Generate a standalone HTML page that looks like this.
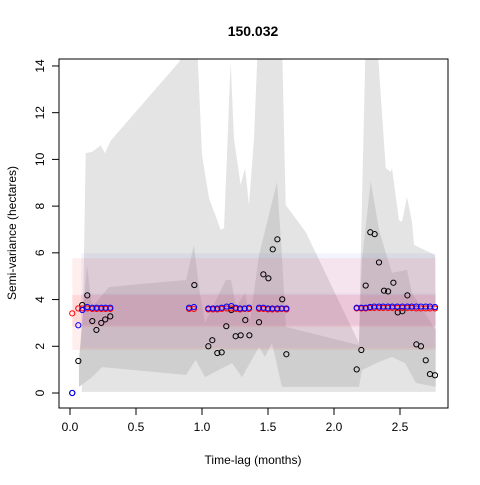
<!DOCTYPE html>
<html><head><meta charset="utf-8"><style>
body{margin:0;background:#fff}
svg text{font-family:"Liberation Sans",Arial,sans-serif;fill:#000}
</style></head><body>
<svg id="c" width="480" height="480" xmlns="http://www.w3.org/2000/svg">
<defs><clipPath id="pc"><rect x="59" y="59" width="389" height="349"/></clipPath></defs>
<text x="253" y="36" font-size="14" font-weight="bold" text-anchor="middle">150.032</text>
<text x="253" y="464" font-size="12" text-anchor="middle">Time-lag (months)</text>
<text x="16" y="233" font-size="12" text-anchor="middle" transform="rotate(-90 16 233)">Semi-variance (hectares)</text>
<g id="plot" clip-path="url(#pc)"></g>
<g id="axes"></g>
<rect x="59" y="59" width="389" height="349" fill="none" stroke="#000" stroke-width="1"/>
</svg>
<script>
const xTicks=[0,0.5,1,1.5,2,2.5];
const xTickLabels=["0.0","0.5","1.0","1.5","2.0","2.5"];
const yTicks=[0,2,4,6,8,10,12,14];
const yTickLabels=["0","2","4","6","8","10","12","14"];
const lightT=[0.089,0.119,0.167,0.233,0.265,0.308,0.826,0.909,0.962,1.0,1.053,1.142,1.167,1.217,1.242,1.293,1.326,1.356,1.394,1.424,1.606,1.634,1.786,2.189,2.212,2.24,2.326,2.392,2.43,2.439,2.492,2.515,2.553,2.591,2.606,2.765,2.77];
const lightHi=[0.1,10.27,10.32,10.6,10.27,10.8,14.17,15.1,15.1,10.19,8.35,6.98,7.06,14.17,10.9,8.9,9.63,8.05,10.9,15.1,15.1,8.05,6.89,2.14,8.26,15.1,15.1,9.63,9.46,9.63,7.4,7.32,8.39,7.32,6.34,5.91,0.1];
const lightLo=[0.05,0.05];
const darkUpT=[0.068,0.129,0.167,0.295,0.879,0.939,0.977,1.023,1.18,1.22,1.258,1.326,1.364,1.432,1.568,1.604,1.636,2.189,2.212,2.278,2.341,2.439,2.553,2.591,2.77];
const darkUpV=[1.41,5.48,3.68,4.54,4.84,6.34,4.54,3.0,4.84,4.84,3.68,4.28,3.13,5.91,9.03,6.04,2.83,2.05,5.69,9.07,6.98,5.14,5.27,4.28,2.7];
const darkLoT=[0.068,0.167,0.242,0.879,0.952,1.023,1.227,1.303,1.432,1.477,1.53,1.606,2.189,2.212,2.341,2.439,2.538,2.621,2.77];
const darkLoV=[0.26,0.68,1.11,0.77,1.41,0.68,1.28,0.68,1.97,1.54,2.14,0.26,0.26,0.98,1.33,1.54,1.28,0.43,0.26];
const bandRange=[[0.018,2.77],[0.085,2.77]];
const redOuter=[1.84,5.77], redInner=[2.84,4.2];
const blueOuter=[1.93,5.98], blueInner=[2.91,4.27];
const modelT=[0.017,0.063,0.093,0.131,0.169,0.202,0.237,0.27,0.305,0.902,0.939,1.048,1.083,1.116,1.149,1.187,1.222,1.255,1.288,1.323,1.356,1.432,1.465,1.5,1.533,1.571,1.604,1.639,2.172,2.207,2.24,2.273,2.305,2.341,2.373,2.409,2.442,2.48,2.518,2.556,2.589,2.624,2.659,2.695,2.727,2.765];
const redV=[3.41,3.62,3.62,3.62,3.6,3.6,3.6,3.6,3.6,3.6,3.6,3.58,3.58,3.58,3.6,3.62,3.62,3.6,3.58,3.6,3.6,3.6,3.6,3.58,3.58,3.58,3.6,3.58,3.62,3.62,3.62,3.64,3.64,3.64,3.64,3.64,3.64,3.64,3.64,3.64,3.64,3.62,3.62,3.62,3.62,3.62];
const blueV=[0,2.9,3.55,3.68,3.65,3.65,3.65,3.65,3.65,3.65,3.68,3.62,3.62,3.62,3.65,3.7,3.72,3.65,3.62,3.62,3.65,3.65,3.65,3.62,3.62,3.62,3.62,3.62,3.65,3.65,3.65,3.68,3.7,3.7,3.7,3.7,3.7,3.7,3.7,3.7,3.7,3.7,3.7,3.7,3.7,3.68];
const empT=[0.017,0.063,0.093,0.131,0.169,0.2,0.237,0.267,0.305,0.942,1.048,1.078,1.116,1.149,1.184,1.222,1.255,1.293,1.328,1.359,1.432,1.465,1.503,1.536,1.571,1.608,1.639,2.172,2.207,2.24,2.275,2.308,2.341,2.379,2.41,2.45,2.483,2.518,2.556,2.624,2.659,2.695,2.727,2.765];
const empV=[0,1.37,3.77,4.18,3.08,2.7,3.0,3.15,3.28,4.62,2.0,2.26,1.71,1.74,2.86,3.55,2.43,2.47,3.12,2.47,3.03,5.08,4.91,6.15,6.58,4.01,1.66,1.01,1.84,4.6,6.88,6.8,5.59,4.38,4.35,4.72,3.45,3.5,4.18,2.08,2.0,1.4,0.81,0.76];

const X=t=>70+t*132, Y=v=>393-v*23.36;
const NS="http://www.w3.org/2000/svg";
const plot=document.getElementById('plot'), axes=document.getElementById('axes');
function mk(tag,at,parent){const e=document.createElementNS(NS,tag);for(const k in at)e.setAttribute(k,at[k]);parent.appendChild(e);return e;}
// light envelope
let pts=lightT.map((t,i)=>X(t)+','+Y(lightHi[i]));
pts.push(X(lightT[lightT.length-1])+','+Y(lightLo[1]));pts.push(X(lightT[0])+','+Y(lightLo[0]));
let p=mk('polygon',{points:pts.join(' '),fill:'#e4e4e4'},plot);


// dark envelope
pts=darkUpT.map((t,i)=>X(t)+','+Y(darkUpV[i]));
for(let i=darkLoT.length-1;i>=0;i--)pts.push(X(darkLoT[i])+','+Y(darkLoV[i]));
p=mk('polygon',{points:pts.join(' '),fill:'#cfcfcf'},plot);


// model bands
function band(r,rng,col,op,name){const e=mk('rect',{x:X(rng[0]),y:Y(r[1]),width:X(rng[1])-X(rng[0]),height:Y(r[0])-Y(r[1]),fill:col,'fill-opacity':op},plot);

}
band(blueOuter,bandRange[1],'#6060ff',0.07,'model-band-blue-outer');
band(redOuter,bandRange[0],'#ff4040',0.09,'model-band-red-outer');
band(blueInner,bandRange[1],'#6060ff',0.07,'model-band-blue-inner');
band(redInner,bandRange[0],'#ff3030',0.11,'model-band-red-inner');
// points
empT.forEach((t,i)=>{const c=mk('circle',{cx:X(t),cy:Y(empV[i]),r:2.6,fill:'none',stroke:'#000','stroke-width':1},plot);

});
modelT.forEach((t,i)=>{const c=mk('circle',{cx:X(t),cy:Y(redV[i]),r:2.6,fill:'none',stroke:'#f00','stroke-width':1},plot);

});
modelT.forEach((t,i)=>{const c=mk('circle',{cx:X(t),cy:Y(blueV[i]),r:2.6,fill:'none',stroke:'#00f','stroke-width':1},plot);

});
// axes
xTicks.forEach((t,i)=>{const l=mk('line',{x1:X(t),x2:X(t),y1:408,y2:415,stroke:'#000'},axes);


const tx=mk('text',{x:X(t),y:431,'font-size':12,'text-anchor':'middle'},axes);tx.textContent=xTickLabels[i];

});
yTicks.forEach((v,i)=>{const l=mk('line',{x1:52,x2:59,y1:Y(v),y2:Y(v),stroke:'#000'},axes);


const tx=mk('text',{x:44,y:Y(v),'font-size':12,'text-anchor':'middle',transform:`rotate(-90 44 ${Y(v)})`},axes);tx.textContent=yTickLabels[i];

});
</script>
</body></html>
